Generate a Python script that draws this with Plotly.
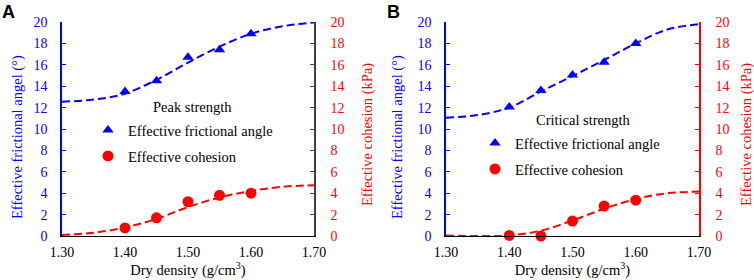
import plotly.graph_objects as go

# ---------------- data ----------------
density = [1.40, 1.45, 1.50, 1.55, 1.60]
peak_angle = [13.5, 14.5, 16.7, 17.4, 18.9]
peak_cohesion = [0.75, 1.7, 3.2, 3.8, 4.0]
crit_angle = [12.05, 13.6, 15.05, 16.25, 18.0]
crit_cohesion = [0.05, 0.0, 1.4, 2.8, 3.35]

fit_density = [1.30, 1.35, 1.40, 1.45, 1.50, 1.55, 1.60, 1.65, 1.70]
peak_angle_fit = [12.55, 12.75, 13.3, 14.6, 16.2, 17.7, 18.9, 19.6, 19.95]
peak_cohesion_fit = [0.1, 0.3, 0.8, 1.6, 2.7, 3.6, 4.2, 4.6, 4.75]
crit_angle_fit = [11.05, 11.3, 12.0, 13.5, 14.95, 16.45, 18.0, 19.3, 19.8]
crit_cohesion_fit = [0.05, 0.0, 0.05, 0.5, 1.45, 2.55, 3.45, 4.0, 4.15]

x_ticks = [1.30, 1.40, 1.50, 1.60, 1.70]
x_tick_labels = ["1.30", "1.40", "1.50", "1.60", "1.70"]
y_ticks = [0, 2, 4, 6, 8, 10, 12, 14, 16, 18, 20]

angle_title = "Effective frictional angel (°)"
cohesion_title = "Effective cohesion (kPa)"
x_title = "Dry density (g/cm<sup>3</sup>)"

# ---------------- style ----------------
W, H = 754, 280
BLUE = "#0000ff"
RED = "#ff0000"
SERIF = "Liberation Serif, Tinos, DejaVu Serif, serif"
FS = 14
TFS = 14.5

def px_x(p):
    return p / W

def px_y(p):
    return 1 - p / H

fig = go.Figure()

panels = [
    dict(xa="x", ya="y", ya2="y2", ang=peak_angle, coh=peak_cohesion,
         angf=peak_angle_fit, cohf=peak_cohesion_fit, lg1="legend", lg2="legend2"),
    dict(xa="x2", ya="y3", ya2="y4", ang=crit_angle, coh=crit_cohesion,
         angf=crit_angle_fit, cohf=crit_cohesion_fit, lg1="legend3", lg2="legend4"),
]

for p in panels:
    fig.add_trace(go.Scatter(x=fit_density, y=p["angf"], xaxis=p["xa"], yaxis=p["ya"],
                             mode="lines", line=dict(color=BLUE, width=2, dash="8px,4px", shape="spline"),
                             showlegend=False, hoverinfo="skip"))
    fig.add_trace(go.Scatter(x=fit_density, y=p["cohf"], xaxis=p["xa"], yaxis=p["ya2"],
                             mode="lines", line=dict(color=RED, width=2, dash="8px,4px", shape="spline"),
                             showlegend=False, hoverinfo="skip"))
    fig.add_trace(go.Scatter(x=density, y=p["ang"], xaxis=p["xa"], yaxis=p["ya"],
                             mode="markers", name="Effective frictional angle",
                             marker=dict(symbol="triangle-up", size=10, color=BLUE),
                             cliponaxis=False, legend=p["lg1"]))
    fig.add_trace(go.Scatter(x=density, y=p["coh"], xaxis=p["xa"], yaxis=p["ya2"],
                             mode="markers", name="Effective cohesion",
                             marker=dict(symbol="circle", size=11, color=RED),
                             cliponaxis=False, legend=p["lg2"]))

ydom = [px_y(236), px_y(22)]

def xaxis(dom, anchor):
    return dict(domain=dom, anchor=anchor, range=[1.30, 1.70], tickvals=x_ticks,
                ticktext=x_tick_labels, ticks="", showline=True, linecolor="black",
                linewidth=1, showgrid=False, zeroline=False, automargin=False,
                tickfont=dict(family=SERIF, size=FS, color="black"),
                ticklabelstandoff=3,
                title=dict(text=x_title, standoff=1,
                           font=dict(family=SERIF, size=TFS, color="black")))

def yleft(anchor):
    return dict(domain=ydom, anchor=anchor, range=[0, 20], tickvals=y_ticks,
                ticks="inside", ticklen=4, tickcolor=BLUE, showline=True, linecolor=BLUE,
                linewidth=1.5, showgrid=False, zeroline=False, automargin=False,
                tickfont=dict(family=SERIF, size=FS, color=BLUE), ticklabelstandoff=10)

def yright(anchor, over, axcolor):
    return dict(anchor=anchor, overlaying=over, side="right", range=[0, 20], tickvals=y_ticks,
                ticks="inside", ticklen=4, tickcolor=axcolor, showline=True, linecolor=axcolor,
                linewidth=1.5, showgrid=False, zeroline=False, automargin=False,
                tickfont=dict(family=SERIF, size=FS, color=RED), ticklabelstandoff=12)

def legend_at(xpx, ypx):
    return dict(x=px_x(xpx), y=px_y(ypx), xanchor="left", yanchor="middle",
                bgcolor="rgba(0,0,0,0)", borderwidth=0, itemwidth=30,
                font=dict(family=SERIF, size=TFS, color="black"))

def vtitle(text, xpx, ypx, color):
    return dict(text=text, x=px_x(xpx), y=px_y(ypx), xref="paper", yref="paper",
                xanchor="center", yanchor="middle", textangle=-90, showarrow=False,
                font=dict(family=SERIF, size=TFS, color=color))

def label(text, xpx, ypx):
    return dict(text=text, x=px_x(xpx), y=px_y(ypx), xref="paper", yref="paper",
                xanchor="center", yanchor="middle", showarrow=False,
                font=dict(family=SERIF, size=TFS, color="black"))

fig.update_layout(
    width=W, height=H, margin=dict(l=0, r=0, t=0, b=0, autoexpand=False),
    paper_bgcolor="white", plot_bgcolor="white",
    font=dict(family=SERIF, size=FS),
    xaxis=xaxis([px_x(62), px_x(314)], "y"),
    yaxis=yleft("x"),
    yaxis2=yright("x", "y", "#404040"),
    xaxis2=xaxis([px_x(446), px_x(699)], "y3"),
    yaxis3=yleft("x2"),
    yaxis4=yright("x2", "y3", RED),
    legend=legend_at(88, 130),
    legend2=legend_at(88, 156),
    legend3=legend_at(475, 143),
    legend4=legend_at(475, 169),
    annotations=[
        label("Peak strength", 192, 107),
        label("Critical strength", 583, 120),
        vtitle(angle_title, 17, 137, BLUE),
        vtitle(cohesion_title, 367, 135, RED),
        vtitle(angle_title, 397, 137, BLUE),
        vtitle(cohesion_title, 746, 135, RED),
        dict(text="<b>A</b>", x=0, y=1, xref="paper", yref="paper", xanchor="left",
             yanchor="top", showarrow=False, font=dict(family="Liberation Sans", size=18, color="black")),
        dict(text="<b>B</b>", x=px_x(385), y=1, xref="paper", yref="paper", xanchor="left",
             yanchor="top", showarrow=False, font=dict(family="Liberation Sans", size=18, color="black")),
    ],
)

fig.write_html("out.html", config={"displayModeBar": False},
               post_script="document.body.style.margin='0px';")
